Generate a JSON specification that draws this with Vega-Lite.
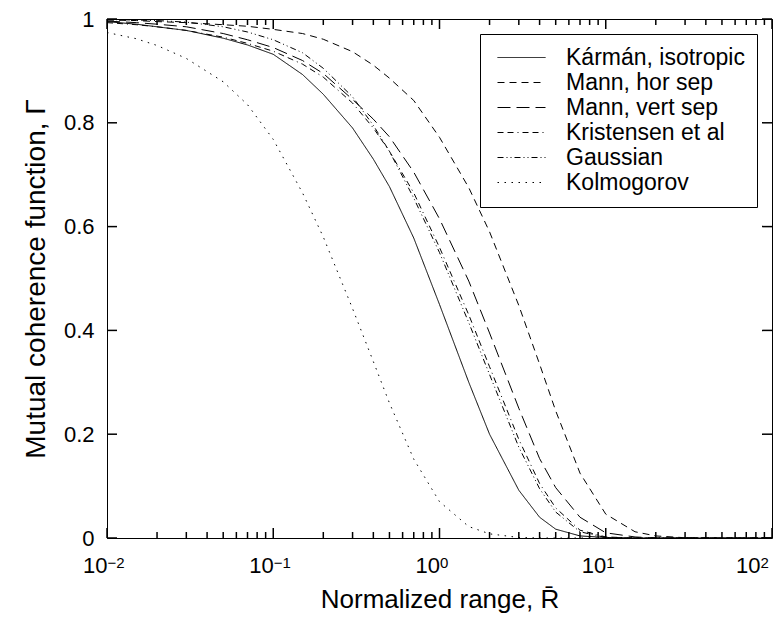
{
  "$schema": "https://vega.github.io/schema/vega-lite/v6.json",
  "width": 665,
  "height": 519,
  "autosize": {"type": "none"},
  "padding": {"left": 107, "top": 19, "right": 3, "bottom": 81},
  "background": "white",
  "config": {
    "view": {"stroke": "black", "strokeWidth": 1},
    "font": "Liberation Sans",
    "axis": {"grid": false, "domain": false, "ticks": false, "tickSize": 0, "labelColor": "black", "titleColor": "black", "labelFont": "Liberation Sans", "titleFont": "Liberation Sans", "labelFontSize": 22, "titleFontSize": 26, "titleFontWeight": "normal", "labelOverlap": false, "labelFlush": false},
    "legend": {"labelFont": "Liberation Sans", "labelFontSize": 23, "labelColor": "black", "labelLimit": 0}
  },
  "datasets": {
    "curves": [
      {"x":0.01,"g":"Kármán, isotropic","v":0.995},{"x":0.015,"g":"Kármán, isotropic","v":0.99},{"x":0.02,"g":"Kármán, isotropic","v":0.985},{"x":0.03,"g":"Kármán, isotropic","v":0.978},{"x":0.05,"g":"Kármán, isotropic","v":0.963},{"x":0.07,"g":"Kármán, isotropic","v":0.95},{"x":0.1,"g":"Kármán, isotropic","v":0.932},{"x":0.15,"g":"Kármán, isotropic","v":0.893},{"x":0.2,"g":"Kármán, isotropic","v":0.855},{"x":0.3,"g":"Kármán, isotropic","v":0.79},{"x":0.4,"g":"Kármán, isotropic","v":0.73},{"x":0.5,"g":"Kármán, isotropic","v":0.677},{"x":0.7,"g":"Kármán, isotropic","v":0.578},{"x":1,"g":"Kármán, isotropic","v":0.45},{"x":1.5,"g":"Kármán, isotropic","v":0.3},{"x":2,"g":"Kármán, isotropic","v":0.2},{"x":3,"g":"Kármán, isotropic","v":0.092},{"x":4,"g":"Kármán, isotropic","v":0.04},{"x":5,"g":"Kármán, isotropic","v":0.017},{"x":7,"g":"Kármán, isotropic","v":0.004},{"x":10,"g":"Kármán, isotropic","v":0.001},{"x":15,"g":"Kármán, isotropic","v":0},{"x":20,"g":"Kármán, isotropic","v":0},{"x":30,"g":"Kármán, isotropic","v":0},{"x":50,"g":"Kármán, isotropic","v":0},{"x":100,"g":"Kármán, isotropic","v":0},
      {"x":0.01,"g":"Mann, hor sep","v":0.998},{"x":0.015,"g":"Mann, hor sep","v":0.997},{"x":0.02,"g":"Mann, hor sep","v":0.995},{"x":0.03,"g":"Mann, hor sep","v":0.993},{"x":0.05,"g":"Mann, hor sep","v":0.989},{"x":0.07,"g":"Mann, hor sep","v":0.986},{"x":0.1,"g":"Mann, hor sep","v":0.98},{"x":0.15,"g":"Mann, hor sep","v":0.972},{"x":0.2,"g":"Mann, hor sep","v":0.961},{"x":0.3,"g":"Mann, hor sep","v":0.937},{"x":0.4,"g":"Mann, hor sep","v":0.911},{"x":0.5,"g":"Mann, hor sep","v":0.886},{"x":0.7,"g":"Mann, hor sep","v":0.843},{"x":1,"g":"Mann, hor sep","v":0.772},{"x":1.5,"g":"Mann, hor sep","v":0.675},{"x":2,"g":"Mann, hor sep","v":0.59},{"x":3,"g":"Mann, hor sep","v":0.448},{"x":4,"g":"Mann, hor sep","v":0.335},{"x":5,"g":"Mann, hor sep","v":0.245},{"x":7,"g":"Mann, hor sep","v":0.125},{"x":10,"g":"Mann, hor sep","v":0.046},{"x":15,"g":"Mann, hor sep","v":0.012},{"x":20,"g":"Mann, hor sep","v":0.004},{"x":30,"g":"Mann, hor sep","v":0.0005},{"x":50,"g":"Mann, hor sep","v":0},{"x":100,"g":"Mann, hor sep","v":0},
      {"x":0.01,"g":"Mann, vert sep","v":0.996},{"x":0.015,"g":"Mann, vert sep","v":0.993},{"x":0.02,"g":"Mann, vert sep","v":0.99},{"x":0.03,"g":"Mann, vert sep","v":0.985},{"x":0.05,"g":"Mann, vert sep","v":0.972},{"x":0.07,"g":"Mann, vert sep","v":0.96},{"x":0.1,"g":"Mann, vert sep","v":0.945},{"x":0.15,"g":"Mann, vert sep","v":0.92},{"x":0.2,"g":"Mann, vert sep","v":0.895},{"x":0.3,"g":"Mann, vert sep","v":0.845},{"x":0.4,"g":"Mann, vert sep","v":0.807},{"x":0.5,"g":"Mann, vert sep","v":0.773},{"x":0.7,"g":"Mann, vert sep","v":0.705},{"x":1,"g":"Mann, vert sep","v":0.615},{"x":1.5,"g":"Mann, vert sep","v":0.495},{"x":2,"g":"Mann, vert sep","v":0.395},{"x":3,"g":"Mann, vert sep","v":0.25},{"x":4,"g":"Mann, vert sep","v":0.153},{"x":5,"g":"Mann, vert sep","v":0.097},{"x":7,"g":"Mann, vert sep","v":0.04},{"x":10,"g":"Mann, vert sep","v":0.01},{"x":15,"g":"Mann, vert sep","v":0.002},{"x":20,"g":"Mann, vert sep","v":0},{"x":30,"g":"Mann, vert sep","v":0},{"x":50,"g":"Mann, vert sep","v":0},{"x":100,"g":"Mann, vert sep","v":0},
      {"x":0.01,"g":"Kristensen et al","v":0.993},{"x":0.015,"g":"Kristensen et al","v":0.989},{"x":0.02,"g":"Kristensen et al","v":0.985},{"x":0.03,"g":"Kristensen et al","v":0.978},{"x":0.05,"g":"Kristensen et al","v":0.965},{"x":0.07,"g":"Kristensen et al","v":0.953},{"x":0.1,"g":"Kristensen et al","v":0.938},{"x":0.15,"g":"Kristensen et al","v":0.913},{"x":0.2,"g":"Kristensen et al","v":0.888},{"x":0.3,"g":"Kristensen et al","v":0.838},{"x":0.4,"g":"Kristensen et al","v":0.79},{"x":0.5,"g":"Kristensen et al","v":0.745},{"x":0.7,"g":"Kristensen et al","v":0.665},{"x":1,"g":"Kristensen et al","v":0.56},{"x":1.5,"g":"Kristensen et al","v":0.43},{"x":2,"g":"Kristensen et al","v":0.33},{"x":3,"g":"Kristensen et al","v":0.19},{"x":4,"g":"Kristensen et al","v":0.105},{"x":5,"g":"Kristensen et al","v":0.058},{"x":7,"g":"Kristensen et al","v":0.015},{"x":10,"g":"Kristensen et al","v":0.002},{"x":15,"g":"Kristensen et al","v":0},{"x":20,"g":"Kristensen et al","v":0},{"x":30,"g":"Kristensen et al","v":0},{"x":50,"g":"Kristensen et al","v":0},{"x":100,"g":"Kristensen et al","v":0},
      {"x":0.01,"g":"Gaussian","v":0.999},{"x":0.015,"g":"Gaussian","v":0.998},{"x":0.02,"g":"Gaussian","v":0.997},{"x":0.03,"g":"Gaussian","v":0.994},{"x":0.05,"g":"Gaussian","v":0.985},{"x":0.07,"g":"Gaussian","v":0.975},{"x":0.1,"g":"Gaussian","v":0.96},{"x":0.15,"g":"Gaussian","v":0.935},{"x":0.2,"g":"Gaussian","v":0.905},{"x":0.3,"g":"Gaussian","v":0.85},{"x":0.4,"g":"Gaussian","v":0.795},{"x":0.5,"g":"Gaussian","v":0.745},{"x":0.7,"g":"Gaussian","v":0.655},{"x":1,"g":"Gaussian","v":0.55},{"x":1.5,"g":"Gaussian","v":0.415},{"x":2,"g":"Gaussian","v":0.315},{"x":3,"g":"Gaussian","v":0.175},{"x":4,"g":"Gaussian","v":0.095},{"x":5,"g":"Gaussian","v":0.05},{"x":7,"g":"Gaussian","v":0.012},{"x":10,"g":"Gaussian","v":0.001},{"x":15,"g":"Gaussian","v":0},{"x":20,"g":"Gaussian","v":0},{"x":30,"g":"Gaussian","v":0},{"x":50,"g":"Gaussian","v":0},{"x":100,"g":"Gaussian","v":0},
      {"x":0.01,"g":"Kolmogorov","v":0.974},{"x":0.015,"g":"Kolmogorov","v":0.962},{"x":0.02,"g":"Kolmogorov","v":0.949},{"x":0.03,"g":"Kolmogorov","v":0.924},{"x":0.05,"g":"Kolmogorov","v":0.879},{"x":0.07,"g":"Kolmogorov","v":0.835},{"x":0.1,"g":"Kolmogorov","v":0.768},{"x":0.15,"g":"Kolmogorov","v":0.665},{"x":0.2,"g":"Kolmogorov","v":0.58},{"x":0.3,"g":"Kolmogorov","v":0.442},{"x":0.4,"g":"Kolmogorov","v":0.34},{"x":0.5,"g":"Kolmogorov","v":0.26},{"x":0.7,"g":"Kolmogorov","v":0.152},{"x":1,"g":"Kolmogorov","v":0.07},{"x":1.5,"g":"Kolmogorov","v":0.022},{"x":2,"g":"Kolmogorov","v":0.008},{"x":3,"g":"Kolmogorov","v":0.001},{"x":4,"g":"Kolmogorov","v":0},{"x":5,"g":"Kolmogorov","v":0},{"x":7,"g":"Kolmogorov","v":0},{"x":10,"g":"Kolmogorov","v":0},{"x":15,"g":"Kolmogorov","v":0},{"x":20,"g":"Kolmogorov","v":0},{"x":30,"g":"Kolmogorov","v":0},{"x":50,"g":"Kolmogorov","v":0},{"x":100,"g":"Kolmogorov","v":0}
    ],
    "xt": [
      {"t":0.01,"k":"major"},{"t":0.1,"k":"major"},{"t":1,"k":"major"},{"t":10,"k":"major"},{"t":100,"k":"major"},
      {"t":0.02,"k":"minor"},{"t":0.03,"k":"minor"},{"t":0.04,"k":"minor"},{"t":0.05,"k":"minor"},{"t":0.06,"k":"minor"},{"t":0.07,"k":"minor"},{"t":0.08,"k":"minor"},{"t":0.09,"k":"minor"},
      {"t":0.2,"k":"minor"},{"t":0.3,"k":"minor"},{"t":0.4,"k":"minor"},{"t":0.5,"k":"minor"},{"t":0.6,"k":"minor"},{"t":0.7,"k":"minor"},{"t":0.8,"k":"minor"},{"t":0.9,"k":"minor"},
      {"t":2,"k":"minor"},{"t":3,"k":"minor"},{"t":4,"k":"minor"},{"t":5,"k":"minor"},{"t":6,"k":"minor"},{"t":7,"k":"minor"},{"t":8,"k":"minor"},{"t":9,"k":"minor"},
      {"t":20,"k":"minor"},{"t":30,"k":"minor"},{"t":40,"k":"minor"},{"t":50,"k":"minor"},{"t":60,"k":"minor"},{"t":70,"k":"minor"},{"t":80,"k":"minor"},{"t":90,"k":"minor"}
    ],
    "yt": [{"yv":0},{"yv":0.2},{"yv":0.4},{"yv":0.6},{"yv":0.8},{"yv":1}]
  },
  "resolve": {"axis": {"x": "independent", "y": "independent"}},
  "layer": [
    {
      "data": {"name": "curves"},
      "mark": {"type": "line", "color": "black", "strokeWidth": 1},
      "encoding": {
        "x": {"field": "x", "type": "quantitative", "scale": {"type": "log", "domain": [0.01, 100], "nice": false},
          "axis": {"orient": "bottom", "values": [0.01, 0.1, 1, 10, 100], "labelPadding": 17, "labelAlign": "right", "labelDx": 5, "labelOffset": {"condition": {"test": "datum.value > 50", "value": -12}, "value": 0}, "labelExpr": "'10'", "title": "Normalized range, R̄", "titlePadding": 10}},
        "y": {"field": "v", "type": "quantitative", "scale": {"domain": [0, 1], "nice": false},
          "axis": {"orient": "left", "values": [0, 0.2, 0.4, 0.6, 0.8, 1], "labelPadding": 13, "format": "~g", "title": "Mutual coherence function, Γ", "titleFontSize": 28, "titlePadding": 13}},
        "strokeDash": {"field": "g", "type": "nominal", "sort": ["Kármán, isotropic", "Mann, hor sep", "Mann, vert sep", "Kristensen et al", "Gaussian", "Kolmogorov"],
          "scale": {"domain": ["Kármán, isotropic", "Mann, hor sep", "Mann, vert sep", "Kristensen et al", "Gaussian", "Kolmogorov"], "range": [[1, 0], [7, 5], [13, 6], [6, 4, 6, 4, 1, 4], [6, 3, 1, 3, 1, 3], [1.5, 5.5]]},
          "legend": {"title": null, "orient": "top-right", "offset": 15, "strokeColor": "black", "fillColor": "white", "padding": 12, "rowPadding": 1, "symbolType": "M-4,0H4", "symbolSize": 144, "symbolOffset": 18, "labelOffset": 33, "symbolStrokeWidth": 1, "symbolStrokeColor": "black"}}
      }
    },
    {
      "data": {"name": "xt"},
      "transform": [{"filter": "datum.k == 'major'"}],
      "mark": {"type": "rule", "color": "black", "strokeWidth": 1.5, "y2Offset": -10},
      "encoding": {
        "x": {"field": "t", "type": "quantitative", "scale": {"type": "log", "domain": [0.01, 100], "nice": false},
          "axis": {"orient": "bottom", "values": [0.01, 0.1, 1, 10, 100], "labelPadding": 17, "labelDy": -7, "labelAlign": "left", "labelDx": 5, "labelOffset": {"condition": {"test": "datum.value > 50", "value": -12}, "value": 0}, "labelFontSize": 15, "labelExpr": "format(round(log(datum.value)/LN10), 'd')", "title": null}},
        "y": {"datum": 0, "type": "quantitative", "scale": {"domain": [0, 1], "nice": false}, "axis": null},
        "y2": {"datum": 0}
      }
    },
    {
      "data": {"name": "xt"},
      "transform": [{"filter": "datum.k == 'minor'"}],
      "mark": {"type": "rule", "color": "black", "strokeWidth": 1.5, "y2Offset": -6},
      "encoding": {
        "x": {"field": "t", "type": "quantitative", "scale": {"type": "log", "domain": [0.01, 100], "nice": false}, "axis": null},
        "y": {"datum": 0, "type": "quantitative", "scale": {"domain": [0, 1], "nice": false}, "axis": null},
        "y2": {"datum": 0}
      }
    },
    {
      "data": {"name": "xt"},
      "transform": [{"filter": "datum.k == 'major'"}],
      "mark": {"type": "rule", "color": "black", "strokeWidth": 1.5, "y2Offset": 10},
      "encoding": {
        "x": {"field": "t", "type": "quantitative", "scale": {"type": "log", "domain": [0.01, 100], "nice": false}, "axis": null},
        "y": {"datum": 1, "type": "quantitative", "scale": {"domain": [0, 1], "nice": false}, "axis": null},
        "y2": {"datum": 1}
      }
    },
    {
      "data": {"name": "xt"},
      "transform": [{"filter": "datum.k == 'minor'"}],
      "mark": {"type": "rule", "color": "black", "strokeWidth": 1.5, "y2Offset": 6},
      "encoding": {
        "x": {"field": "t", "type": "quantitative", "scale": {"type": "log", "domain": [0.01, 100], "nice": false}, "axis": null},
        "y": {"datum": 1, "type": "quantitative", "scale": {"domain": [0, 1], "nice": false}, "axis": null},
        "y2": {"datum": 1}
      }
    },
    {
      "data": {"name": "yt"},
      "mark": {"type": "rule", "color": "black", "strokeWidth": 1.5, "x2Offset": 10},
      "encoding": {
        "y": {"field": "yv", "type": "quantitative", "scale": {"domain": [0, 1], "nice": false}, "axis": null},
        "x": {"datum": 0.01, "type": "quantitative", "scale": {"type": "log", "domain": [0.01, 100], "nice": false}, "axis": null},
        "x2": {"datum": 0.01}
      }
    },
    {
      "data": {"name": "yt"},
      "mark": {"type": "rule", "color": "black", "strokeWidth": 1.5, "x2Offset": -10},
      "encoding": {
        "y": {"field": "yv", "type": "quantitative", "scale": {"domain": [0, 1], "nice": false}, "axis": null},
        "x": {"datum": 100, "type": "quantitative", "scale": {"type": "log", "domain": [0.01, 100], "nice": false}, "axis": null},
        "x2": {"datum": 100}
      }
    }
  ]
}
